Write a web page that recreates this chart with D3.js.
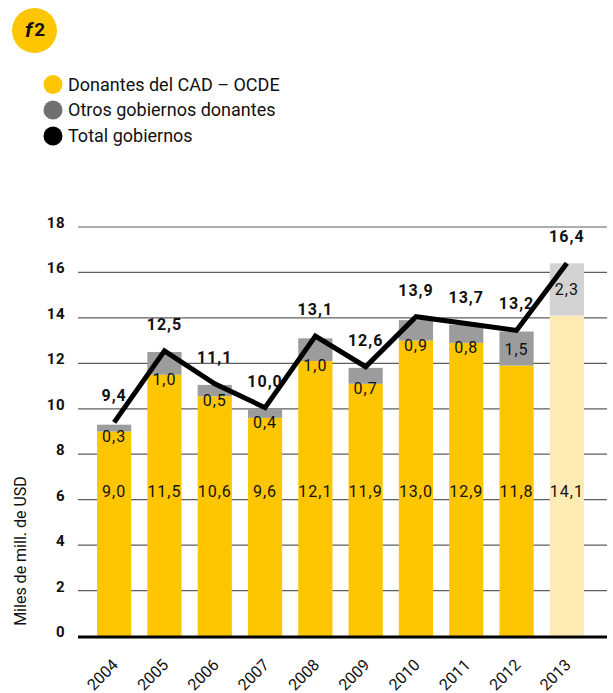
<!DOCTYPE html>
<meta charset="utf-8">
<style>
    body {
        margin: 0;
        background-color: #fff;
    }

    svg {
        display: block;
        font-family: Roboto, "DejaVu Sans", sans-serif;
        fill: #111;
    }

    .grid line {
        stroke: #5e5e5e;
        stroke-width: 1.2px;
    }

    .tick-label {
        font-size: 15px;
        font-weight: bold;
        text-anchor: end;
        letter-spacing: 0.5px;
    }

    .seg-label {
        font-size: 16px;
        text-anchor: middle;
        letter-spacing: 1px;
    }

    .total-label {
        font-size: 16px;
        font-weight: bold;
        text-anchor: middle;
        letter-spacing: 1px;
    }

    .anio {
        font-size: 16px;
        text-anchor: end;
    }

    .leyenda text {
        font-size: 18px;
    }
</style>
<script src="https://cdn.jsdelivr.net/npm/d3@7"></script>
<title>f2</title>
<svg width="613" height="693"></svg>
<script>
    var anios = ["2004", "2005", "2006", "2007", "2008", "2009", "2010", "2011", "2012", "2013"];

    // alturas (miles de millones de USD)
    var donantesCAD = [9.0, 11.5, 10.55, 9.6, 12.1, 11.1, 13.0, 12.9, 11.9, 14.1];
    var otrosGobiernos = [0.3, 1.0, 0.5, 0.4, 1.0, 0.7, 0.9, 0.8, 1.5, 2.3];
    var totalGobiernos = [9.4, 12.55, 11.1, 10.05, 13.2, 11.85, 14.05, 13.75, 13.45, 16.4];

    // textos tal como aparecen
    var etiquetasCAD = ["9,0", "11,5", "10,6", "9,6", "12,1", "11,9", "13,0", "12,9", "11,8", "14,1"];
    var etiquetasOtros = ["0,3", "1,0", "0,5", "0,4", "1,0", "0,7", "0,9", "0,8", "1,5", "2,3"];
    var etiquetasTotal = ["9,4", "12,5", "11,1", "10,0", "13,1", "12,6", "13,9", "13,7", "13,2", "16,4"];

    var ticksY = [0, 2, 4, 6, 8, 10, 12, 14, 16, 18];

    var leyenda = ["Donantes del CAD – OCDE", "Otros gobiernos donantes", "Total gobiernos"];

    var amarillo = "#fec600", gris = "#9c9c9c";
    var amarilloClaro = "#feebb4", grisClaro = "#d3d3d3";
    var estimado = "2013";

    var svg = d3.select("svg");

    var x = d3.scaleBand()
        .domain(anios)
        .range([89, 592])
        .paddingInner(0.32)
        .paddingOuter(0.16);

    var y = d3.scaleLinear()
        .domain([0, 18])
        .range([636, 227]);

    var datos = anios.map(function (a, i) {
        return {
            anio: a,
            cad: donantesCAD[i],
            otros: otrosGobiernos[i],
            total: totalGobiernos[i],
            etCad: etiquetasCAD[i],
            etOtros: etiquetasOtros[i],
            etTotal: etiquetasTotal[i]
        };
    });

    // insignia
    svg.append("circle")
        .attr("cx", 34.5)
        .attr("cy", 30.5)
        .attr("r", 22.5)
        .style("fill", amarillo);

    var insignia = svg.append("text")
        .attr("x", 25)
        .attr("y", 37)
        .style("font-weight", "bold")
        .style("fill", "#111");
    insignia.append("tspan")
        .style("font-style", "italic")
        .style("font-size", "21px")
        .text("f");
    insignia.append("tspan")
        .attr("dx", 2)
        .attr("dy", -1)
        .style("font-size", "19px")
        .text("2");

    // leyenda
    var colLeyenda = [amarillo, "#707070", "#000"];
    var ley = svg.append("g")
        .attr("class", "leyenda")
        .selectAll("g")
        .data(leyenda)
        .enter().append("g")
        .attr("transform", function (d, i) { return "translate(53," + [84.5, 110, 136][i] + ")"; });

    ley.append("circle")
        .attr("r", 9.5)
        .style("fill", function (d, i) { return colLeyenda[i]; });

    ley.append("text")
        .attr("x", 15)
        .attr("dy", "0.36em")
        .text(function (d) { return d; });

    // rejilla
    var grid = svg.append("g").attr("class", "grid");
    grid.selectAll("line")
        .data(ticksY.filter(function (t) { return t > 0; }))
        .enter().append("line")
        .attr("x1", 78)
        .attr("x2", 607)
        .attr("y1", function (d) { return y(d); })
        .attr("y2", function (d) { return y(d); });

    svg.append("g")
        .selectAll("text")
        .data(ticksY)
        .enter().append("text")
        .attr("class", "tick-label")
        .attr("x", 65)
        .attr("y", function (d) { return y(d) + 1; })
        .text(function (d) { return d; });

    // barras
    var barra = svg.append("g")
        .selectAll("g")
        .data(datos)
        .enter().append("g");

    barra.append("rect")
        .attr("x", function (d) { return x(d.anio); })
        .attr("width", x.bandwidth())
        .attr("y", function (d) { return y(d.cad); })
        .attr("height", function (d) { return y(0) - y(d.cad); })
        .style("fill", function (d) { return d.anio == estimado ? amarilloClaro : amarillo; });

    barra.append("rect")
        .attr("x", function (d) { return x(d.anio); })
        .attr("width", x.bandwidth())
        .attr("y", function (d) { return y(d.cad + d.otros); })
        .attr("height", function (d) { return y(d.cad) - y(d.cad + d.otros); })
        .style("fill", function (d) { return d.anio == estimado ? grisClaro : gris; });

    // eje 0
    svg.append("line")
        .attr("x1", 78)
        .attr("x2", 607)
        .attr("y1", y(0) + 1)
        .attr("y2", y(0) + 1)
        .style("stroke", "#000")
        .style("stroke-width", 3);

    barra.append("text")
        .attr("class", "seg-label")
        .attr("x", function (d) { return x(d.anio) + x.bandwidth() / 2; })
        .attr("y", y(6) - 3)
        .text(function (d) { return d.etCad; });

    barra.append("text")
        .attr("class", "seg-label")
        .attr("x", function (d) { return x(d.anio) + x.bandwidth() / 2; })
        .attr("y", function (d) {
            if (d.otros >= 1.3)
                return (y(d.cad) + y(d.cad + d.otros)) / 2 + 6;
            return y(d.cad) + 10;
        })
        .text(function (d) { return d.etOtros; });

    // línea total
    var linea = d3.line()
        .x(function (d) { return x(d.anio) + x.bandwidth() / 2; })
        .y(function (d) { return y(d.total); });

    svg.append("path")
        .datum(datos)
        .attr("d", linea)
        .style("fill", "none")
        .style("stroke", "#000")
        .style("stroke-width", 5)
        .style("stroke-linejoin", "miter");

    svg.append("g")
        .selectAll("text")
        .data(datos)
        .enter().append("text")
        .attr("class", "total-label")
        .attr("x", function (d) { return x(d.anio) + x.bandwidth() / 2; })
        .attr("y", function (d) { return y(d.total) - 21; })
        .text(function (d) { return d.etTotal; });

    // años
    svg.append("g")
        .selectAll("text")
        .data(anios)
        .enter().append("text")
        .attr("class", "anio")
        .attr("transform", function (d) {
            return "translate(" + (x(d) + x.bandwidth() / 2 + 5) + ",666) rotate(-45)";
        })
        .text(function (d) { return d; });

    // título eje
    svg.append("text")
        .attr("transform", "translate(26,551) rotate(-90)")
        .style("font-size", "16px")
        .style("text-anchor", "middle")
        .text("Miles de mill. de USD");
</script>
